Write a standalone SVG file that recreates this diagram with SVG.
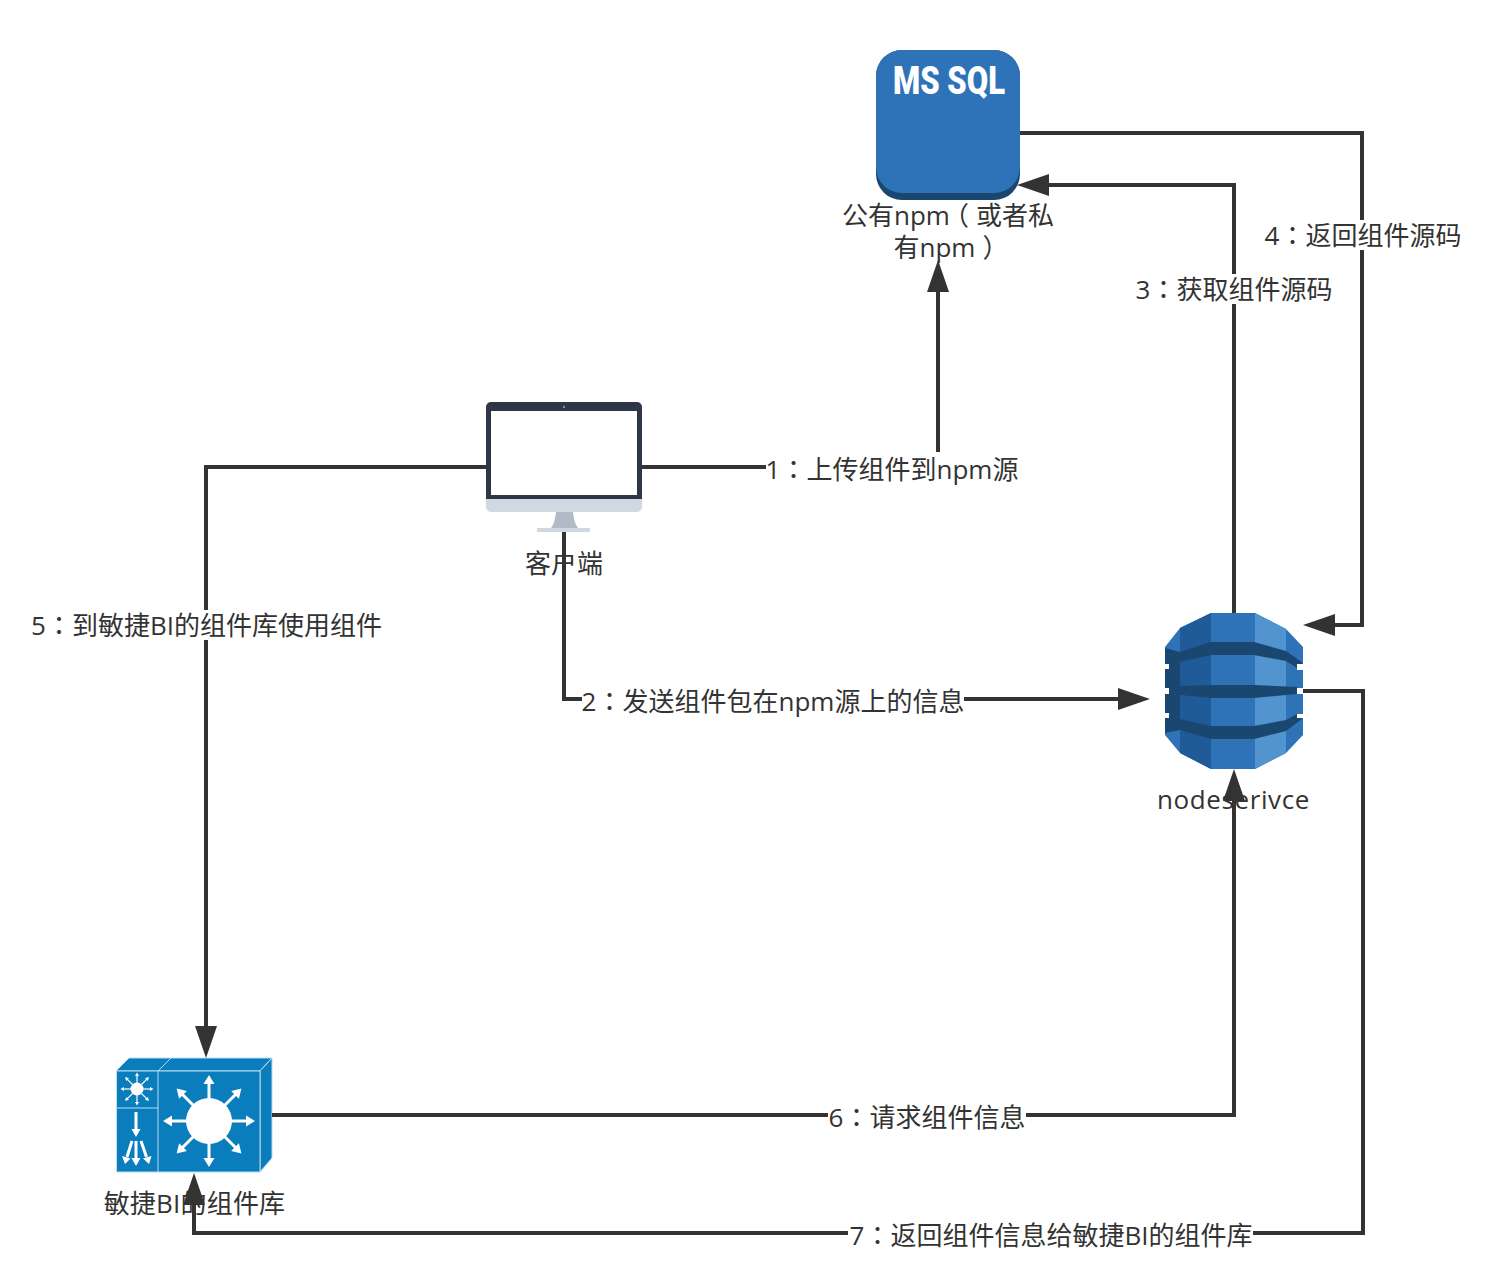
<svg xmlns="http://www.w3.org/2000/svg" width="1489" height="1283" viewBox="0 0 1489 1283">
<style>
text{font-family:"Open Sans","Noto Sans CJK SC",sans-serif;font-size:26px;fill:#333;text-anchor:middle}
.tc{font-family:"Noto Sans CJK TC",sans-serif}
.c{fill:none;stroke:#333;stroke-width:4}
.bg{fill:#fff}
.band{fill:#1a476f}
</style>
<defs>
<marker id="ah" markerUnits="userSpaceOnUse" markerWidth="34" markerHeight="22" refX="12" refY="11" orient="auto"><path d="M0 0L32 11L0 22Z" fill="#333"/></marker>
<g id="arr"><path d="M0 -18V0" stroke="#fff" stroke-width="3" fill="none"/><path d="M-5.500 -17L0 -26L5.500 -17Z" fill="#fff"/></g>
<g id="arrs"><path d="M0 -8V0" stroke="#fff" stroke-width="1.200" fill="none"/><path d="M-2 -7L0 -10.500L2 -7Z" fill="#fff"/></g>
</defs>
<rect width="1489" height="1283" fill="#fff"/>
<g id="mssql">
<rect x="876" y="50" width="144" height="150" rx="26" fill="#1a476f"/>
<rect x="876" y="50" width="144" height="143" rx="26" fill="#2e73b8"/>
<text x="949" y="94" style="font-family:Roboto,'Liberation Sans',sans-serif;font-size:38px;font-weight:900;fill:#fff" textLength="112" lengthAdjust="spacingAndGlyphs">MS SQL</text>
</g>
<g id="client">
<path d="M486 407a5 5 0 0 1 5-5H637a5 5 0 0 1 5 5V500H486Z" fill="#2d3748"/>
<path d="M486 499H642V507a5 5 0 0 1-5 5H491a5 5 0 0 1-5-5Z" fill="#d0d8e2"/>
<rect x="491" y="411" width="146" height="84" fill="#fff"/>
<circle cx="564" cy="407" r="1" fill="#a0aec0"/>
<path d="M556 512H573Q574 523 578 528H551Q555 523 556 512Z" fill="#b1bbc5"/>
<rect x="537" y="528" width="53" height="4" fill="#d0d8e2"/>
</g>
<g id="nodeservice">
<path d="M1165 647L1180 628L1211 613H1255L1286 629L1303 647V735L1286 753L1255 769H1211L1180 753L1165 735Z" fill="#2e73b8"/>
<path d="M1180 628L1211 613V769L1180 753Z" fill="#205b99"/>
<path d="M1255 613L1286 629V753L1255 769Z" fill="#5294cf"/>
<path d="M1165 648L1180 652V730L1165 733Z" class="band"/>
<path class="band" d="M1180 652L1211 642H1254L1286 651L1303 663L1297 668L1286 661L1254 655H1211L1180 662Z"/>
<path class="band" d="M1180 686L1211 685H1254L1297 687V694L1254 698H1211L1180 695Z"/>
<path class="band" d="M1180 719L1211 726H1254L1286 720L1297 714L1303 718L1286 731L1254 739H1211L1180 730Z"/>
<path d="M1165 664h4v5h-4zM1297 664h6v6h-6zM1165 688h4v6h-4zM1297 688h6v6h-6zM1165 713h4v5h-4zM1297 714h6v4h-6z" fill="#fff"/>
</g>
<g id="bilib">
<path d="M116 1071L129 1058H272L260 1071Z" fill="#0a7dbd" stroke="#bcdcee" stroke-width="1"/>
<path d="M260 1071L272 1058V1158L260 1172Z" fill="#0a7dbd" stroke="#bcdcee" stroke-width="1"/>
<path d="M158 1071L171 1058" stroke="#bcdcee" fill="none"/>
<rect x="116.500" y="1071" width="143.500" height="101" fill="#0a7dbd" stroke="#bcdcee"/>
<path d="M158 1071V1172M116 1108H158" stroke="#bcdcee" fill="none"/>
<circle cx="209" cy="1121" r="23" fill="#fff"/>
<use href="#arr" transform="translate(209 1101)"/>
<use href="#arr" transform="translate(209 1141) rotate(180)"/>
<use href="#arr" transform="translate(189 1121) rotate(-90)"/>
<use href="#arr" transform="translate(229 1121) rotate(90)"/>
<use href="#arr" transform="translate(195 1107) rotate(-45)"/>
<use href="#arr" transform="translate(223 1107) rotate(45)"/>
<use href="#arr" transform="translate(195 1135) rotate(-135)"/>
<use href="#arr" transform="translate(223 1135) rotate(135)"/>
<circle cx="137" cy="1089" r="6.500" fill="#fff"/>
<use href="#arrs" transform="translate(137 1083)"/>
<use href="#arrs" transform="translate(137 1095) rotate(180)"/>
<use href="#arrs" transform="translate(131 1089) rotate(-90)"/>
<use href="#arrs" transform="translate(143 1089) rotate(90)"/>
<use href="#arrs" transform="translate(132.500 1084.500) rotate(-45)"/>
<use href="#arrs" transform="translate(141.500 1084.500) rotate(45)"/>
<use href="#arrs" transform="translate(132.500 1093.500) rotate(-135)"/>
<use href="#arrs" transform="translate(141.500 1093.500) rotate(135)"/>
<path d="M136 1112V1130M136 1141V1160M132 1141L127 1157M141 1141L146.500 1157" fill="none" stroke="#fff" stroke-width="3"/>
<path d="M131.500 1129H140.500L136 1137ZM131.500 1158H140.500L136 1166ZM122 1156L130.500 1158.500L125 1164ZM143 1158.500L151.500 1156L149 1164Z" fill="#fff"/>
</g>
<g id="connectors">
<path class="c" d="M641 467H938V280" marker-end="url(#ah)"/>
<path class="c" d="M564 532V699H1130" marker-end="url(#ah)"/>
<path class="c" d="M1234 613V185H1037" marker-end="url(#ah)"/>
<path class="c" d="M1020 133H1362V625H1323" marker-end="url(#ah)"/>
<path class="c" d="M487 467H206V1038" marker-end="url(#ah)"/>
<path class="c" d="M272 1115H1234V789" marker-end="url(#ah)"/>
<path class="c" d="M1303 691H1363V1233H194V1193" marker-end="url(#ah)"/>
<g id="edge-labels">
<rect class="bg" x="766" y="452" width="252" height="32"/>
<text x="892" y="479">1<tspan class="tc">：</tspan>上传组件到npm源</text>
<rect class="bg" x="582" y="684" width="382" height="32"/>
<text x="773" y="711">2<tspan class="tc">：</tspan>发送组件包在npm源上的信息</text>
<rect class="bg" x="1137" y="274" width="195" height="30"/>
<text x="1234" y="299">3<tspan class="tc">：</tspan>获取组件源码</text>
<rect class="bg" x="1264" y="220" width="198" height="30"/>
<text x="1363" y="245">4<tspan class="tc">：</tspan>返回组件源码</text>
<rect class="bg" x="30" y="610" width="353" height="30"/>
<text x="206.500" y="635">5<tspan class="tc">：</tspan>到敏捷BI的组件库使用组件</text>
<rect class="bg" x="828" y="1102" width="198" height="30"/>
<text x="927" y="1127">6<tspan class="tc">：</tspan>请求组件信息</text>
<rect class="bg" x="848" y="1220" width="405" height="30"/>
<text x="1051" y="1245">7<tspan class="tc">：</tspan>返回组件信息给敏捷BI的组件库</text>
</g>
</g>
<g id="node-labels">
<text><tspan x="948" y="225">公有npm<tspan dx="-7">（</tspan><tspan dx="7">或者私</tspan></tspan><tspan x="951" y="257">有npm<tspan dx="7">）</tspan></tspan></text>
<text x="564" y="573">客户端</text>
<text x="1233.500" y="809" letter-spacing=".6">nodeserivce</text>
<text x="194.500" y="1213" letter-spacing=".2">敏捷BI的组件库</text>
</g>
</svg>
